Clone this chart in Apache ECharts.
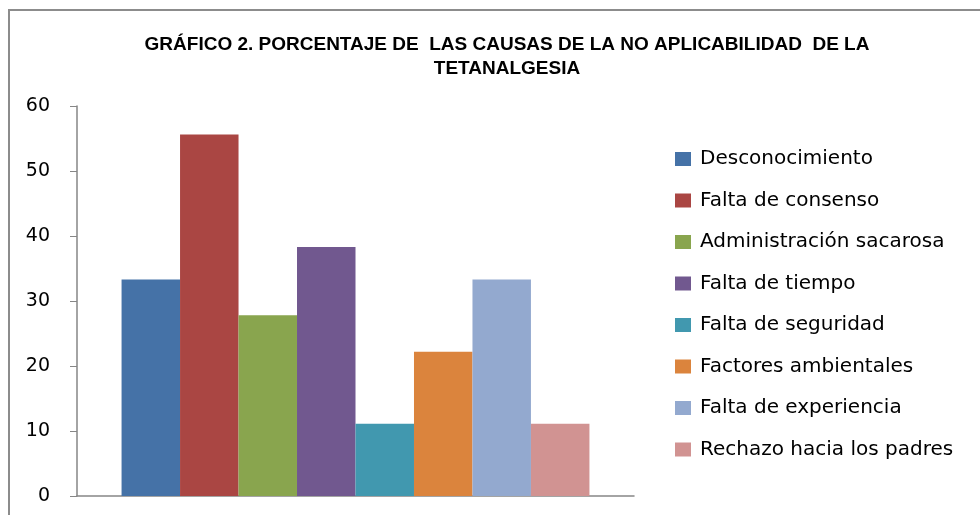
<!DOCTYPE html>
<html>
<head>
<meta charset="utf-8">
<script src="https://cdn.jsdelivr.net/npm/echarts@6/dist/echarts.min.js"></script>
<style>
  html, body { margin: 0; padding: 0; background: #fff; }
  #chart { width: 980px; height: 515px; }
</style>
</head>
<body>
<div id="chart"></div>
<script>
// causes (one series each, Excel style clustered bar)
const causas = ['Desconocimiento', 'Falta de consenso', 'Administración sacarosa', 'Falta de tiempo',
                'Falta de seguridad', 'Factores ambientales', 'Falta de experiencia', 'Rechazo hacia los padres'];
const porcentajes = [33.3, 55.6, 27.8, 38.3, 11.1, 22.2, 33.3, 11.1];
const colores = ['#4572A7', '#AA4643', '#89A54E', '#71588F', '#4198AF', '#DB843D', '#93A9CF', '#D19392'];
const yTicks = [0, 10, 20, 30, 40, 50, 60];

const myChart = echarts.init(document.getElementById('chart'));

const series = causas.map(function (c, i) {
    return {
        name: c,
        type: 'bar',
        barGap: 0,
        barCategoryGap: '16%',
        itemStyle: { color: colores[i] },
        data: [porcentajes[i]]
    };
});

const option = {
    backgroundColor: '#fff',
    animation: false,
    title: {
        text: 'GRÁFICO 2. PORCENTAJE DE  LAS CAUSAS DE LA NO APLICABILIDAD  DE LA\nTETANALGESIA',
        left: 502,
        top: 28,
        textAlign: 'center',
        textStyle: {
            fontFamily: 'Liberation Sans',
            fontWeight: 'bold',
            fontSize: 19,
            lineHeight: 24,
            color: '#000'
        }
    },
    graphic: [{
        type: 'rect',
        shape: { x: 9, y: 10, width: 1000, height: 600 },
        style: { fill: 'none', stroke: '#8c8c8c', lineWidth: 2 },
        silent: true
    }],
    legend: {
        orient: 'vertical',
        left: 670,
        top: 144,
        itemWidth: 16,
        itemHeight: 14,
        itemGap: 21.5,
        icon: 'rect',
        textStyle: {
            fontFamily: 'DejaVu Sans',
            fontSize: 20,
            lineHeight: 20,
            color: '#000',
            padding: [0, 0, 0, 4]
        }
    },
    grid: { left: 77, right: 346, top: 106, bottom: 19 },
    xAxis: {
        type: 'category',
        data: [''],
        axisLine: { lineStyle: { color: '#868686', width: 1.5 } },
        axisTick: { show: false },
        axisLabel: { show: false }
    },
    yAxis: {
        type: 'value',
        min: yTicks[0],
        max: yTicks[yTicks.length - 1],
        interval: 10,
        axisLine: { show: true, lineStyle: { color: '#868686', width: 1.5 } },
        axisTick: { show: true, length: 7, lineStyle: { color: '#868686' } },
        splitLine: { show: false },
        axisLabel: {
            margin: 27,
            fontFamily: 'DejaVu Sans',
            fontSize: 19,
            color: '#000'
        }
    },
    series: series
};
myChart.setOption(option);
</script>
</body>
</html>
